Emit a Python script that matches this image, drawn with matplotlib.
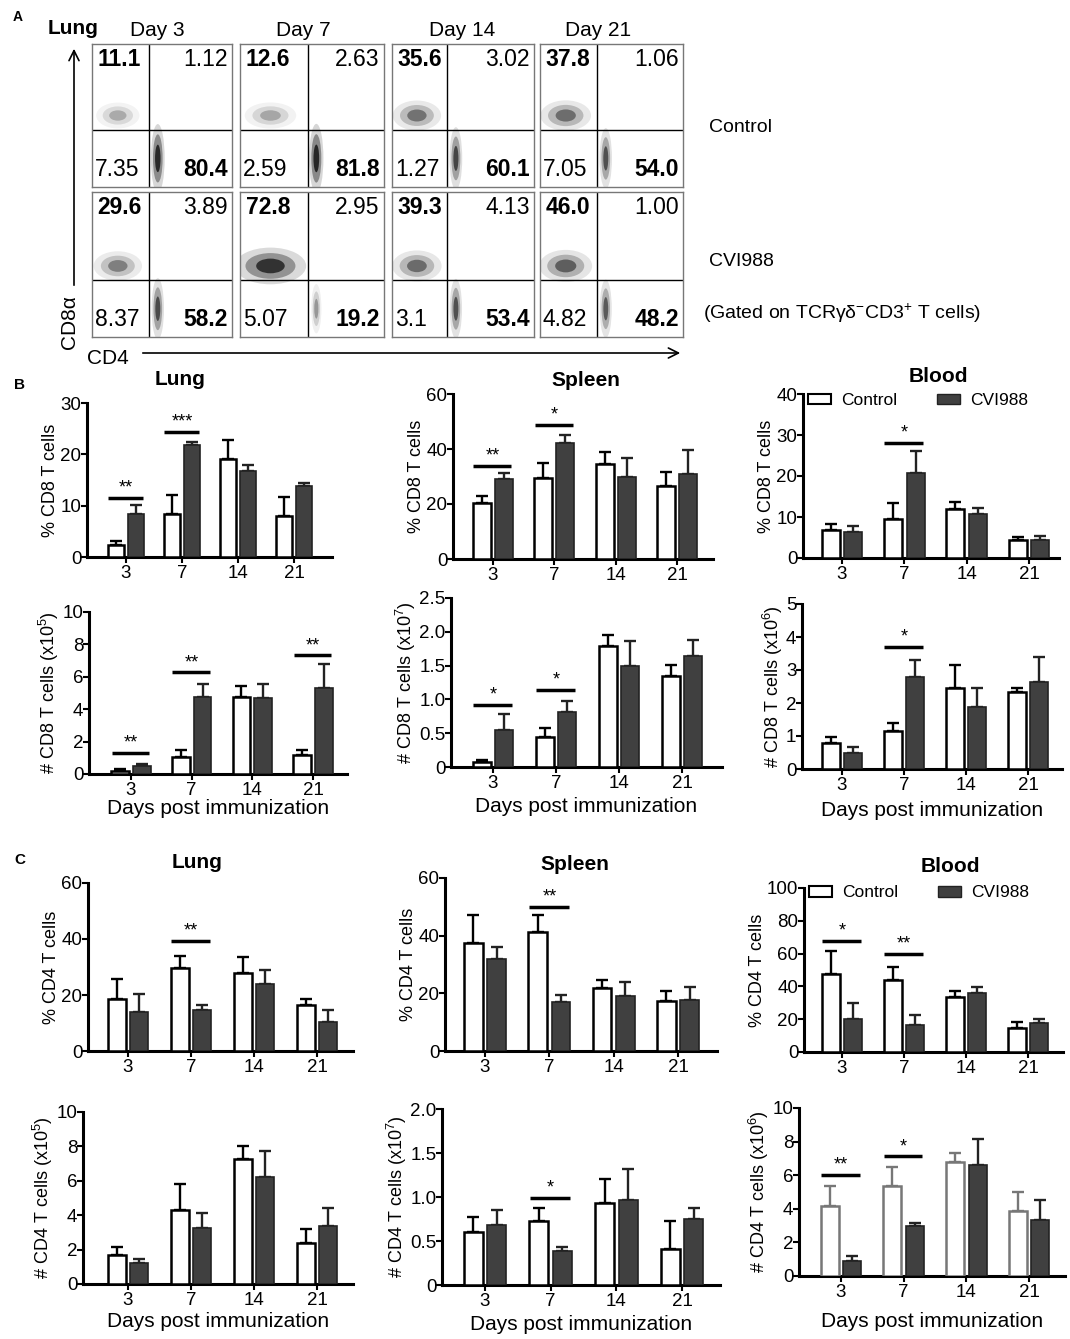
import numpy as np
import matplotlib
matplotlib.use("Agg")
import matplotlib.pyplot as plt
from matplotlib.patches import Ellipse, Patch, FancyArrowPatch

plt.rcParams['font.family'] = ['Liberation Sans', 'DejaVu Sans']
plt.rcParams['mathtext.fontset'] = 'custom'
plt.rcParams['mathtext.rm'] = 'Liberation Sans'
plt.rcParams['mathtext.default'] = 'regular'

W, H = 1070, 1339

# ---- data ----
days = ["3", "7", "14", "21"]
day_titles = ["Day 3", "Day 7", "Day 14", "Day 21"]
groups = ["Control", "CVI988"]

# panel A quadrant percentages: upper-left, upper-right, lower-left, lower-right
quad_control = [["11.1", "1.12", "7.35", "80.4"],
                ["12.6", "2.63", "2.59", "81.8"],
                ["35.6", "3.02", "1.27", "60.1"],
                ["37.8", "1.06", "7.05", "54.0"]]
quad_cvi = [["29.6", "3.89", "8.37", "58.2"],
            ["72.8", "2.95", "5.07", "19.2"],
            ["39.3", "4.13", "3.1", "53.4"],
            ["46.0", "1.00", "4.82", "48.2"]]

# panel B: CD8
b_lung_pct_ctrl = [2.4, 8.3, 19.0, 8.0]
b_lung_pct_ctrl_sem = [0.8, 3.8, 3.7, 3.6]
b_lung_pct_cvi = [8.3, 21.8, 16.8, 13.8]
b_lung_pct_cvi_sem = [1.9, 0.7, 1.1, 0.7]
b_lung_num_ctrl = [0.2, 1.07, 4.74, 1.15]
b_lung_num_ctrl_sem = [0.08, 0.4, 0.72, 0.33]
b_lung_num_cvi = [0.5, 4.78, 4.68, 5.3]
b_lung_num_cvi_sem = [0.1, 0.77, 0.87, 1.48]

b_spleen_pct_ctrl = [20.3, 29.4, 34.5, 26.7]
b_spleen_pct_ctrl_sem = [2.7, 5.5, 4.5, 5.1]
b_spleen_pct_cvi = [29.0, 42.2, 30.0, 31.0]
b_spleen_pct_cvi_sem = [2.2, 2.9, 6.9, 8.7]
b_spleen_num_ctrl = [0.08, 0.44, 1.79, 1.35]
b_spleen_num_ctrl_sem = [0.02, 0.13, 0.17, 0.16]
b_spleen_num_cvi = [0.55, 0.81, 1.49, 1.64]
b_spleen_num_cvi_sem = [0.24, 0.17, 0.38, 0.24]

b_blood_pct_ctrl = [6.8, 9.5, 11.9, 4.3]
b_blood_pct_ctrl_sem = [1.5, 4.0, 1.8, 0.8]
b_blood_pct_cvi = [6.4, 20.7, 10.8, 4.3]
b_blood_pct_cvi_sem = [1.4, 5.4, 1.4, 1.0]
b_blood_num_ctrl = [0.79, 1.16, 2.45, 2.32]
b_blood_num_ctrl_sem = [0.17, 0.23, 0.71, 0.13]
b_blood_num_cvi = [0.5, 2.79, 1.88, 2.65]
b_blood_num_cvi_sem = [0.16, 0.52, 0.57, 0.73]

# panel C: CD4
c_lung_pct_ctrl = [18.5, 29.5, 27.7, 16.6]
c_lung_pct_ctrl_sem = [7.1, 4.5, 6.0, 1.8]
c_lung_pct_cvi = [14.0, 14.5, 24.1, 10.3]
c_lung_pct_cvi_sem = [6.5, 1.9, 4.8, 4.3]
c_lung_num_ctrl = [1.7, 4.3, 7.26, 2.37]
c_lung_num_ctrl_sem = [0.48, 1.49, 0.74, 0.82]
c_lung_num_cvi = [1.25, 3.24, 6.2, 3.38]
c_lung_num_cvi_sem = [0.2, 0.87, 1.54, 1.02]

c_spleen_pct_ctrl = [37.6, 41.4, 22.0, 17.2]
c_spleen_pct_ctrl_sem = [9.6, 5.8, 2.6, 3.7]
c_spleen_pct_cvi = [31.9, 16.9, 19.1, 17.6]
c_spleen_pct_cvi_sem = [4.3, 2.4, 4.9, 4.6]
c_spleen_num_ctrl = [0.6, 0.73, 0.93, 0.41]
c_spleen_num_ctrl_sem = [0.17, 0.15, 0.27, 0.32]
c_spleen_num_cvi = [0.68, 0.39, 0.97, 0.75]
c_spleen_num_cvi_sem = [0.17, 0.04, 0.35, 0.12]

c_blood_pct_ctrl = [47.8, 43.7, 33.5, 14.8]
c_blood_pct_ctrl_sem = [14.0, 7.9, 3.7, 3.5]
c_blood_pct_cvi = [19.9, 16.3, 35.8, 17.7]
c_blood_pct_cvi_sem = [10.2, 6.3, 4.0, 2.6]
c_blood_num_ctrl = [4.17, 5.36, 6.77, 3.87]
c_blood_num_ctrl_sem = [1.19, 1.13, 0.57, 1.11]
c_blood_num_cvi = [0.89, 2.98, 6.59, 3.31]
c_blood_num_cvi_sem = [0.28, 0.19, 1.56, 1.19]

# y axis tick labels
yt_10 = ["0", "10", "20", "30"]
yt_20_60 = ["0", "20", "40", "60"]
yt_2_10 = ["0", "2", "4", "6", "8", "10"]
yt_half_25 = ["0", "0.5", "1.0", "1.5", "2.0", "2.5"]
yt_half_20 = ["0", "0.5", "1.0", "1.5", "2.0"]
yt_10_40 = ["0", "10", "20", "30", "40"]
yt_1_5 = ["0", "1", "2", "3", "4", "5"]
yt_20_100 = ["0", "20", "40", "60", "80", "100"]

# significance marks: (day index, stars, line height)
b_lung_pct_sig = [(0, "**", 11.5), (1, "***", 24.4)]
b_lung_num_sig = [(0, "**", 1.32), (1, "**", 6.27), (3, "**", 7.32)]
b_spleen_pct_sig = [(0, "**", 33.9), (1, "*", 48.7)]
b_spleen_num_sig = [(0, "*", 0.92), (1, "*", 1.14)]
b_blood_pct_sig = [(1, "*", 28.0)]
b_blood_num_sig = [(1, "*", 3.7)]
c_lung_pct_sig = [(1, "**", 39.3)]
c_lung_num_sig = []
c_spleen_pct_sig = [(1, "**", 50.1)]
c_spleen_num_sig = [(1, "*", 0.99)]
c_blood_pct_sig = [(0, "*", 67.5), (1, "**", 59.6)]
c_blood_num_sig = [(0, "**", 6.03), (1, "*", 7.12)]

CVI_COLOR = "#404040"

fig = plt.figure(figsize=(W / 100, H / 100), dpi=100)


def fx(x):
    return x / W


def fy(y):
    return 1 - y / H


def add_ax(left, top, right, bottom):
    return fig.add_axes([left / W, 1 - bottom / H, (right - left) / W, (bottom - top) / H])


# ---- panel A: dot plot gates ----
box_x = [(92, 232), (240, 384), (392, 534), (540, 683)]
box_y = [(44, 187), (192, 337)]
gate_x = [0.41, 0.47, 0.39, 0.40]
gate_y = [0.40, 0.39]

for r, quads in enumerate([quad_control, quad_cvi]):
    for c, q in enumerate(quads):
        ax = add_ax(box_x[c][0], box_y[r][0], box_x[c][1], box_y[r][1])
        ax.set_xlim(0, 1)
        ax.set_ylim(0, 1)
        ax.set_xticks([])
        ax.set_yticks([])
        for s in ax.spines.values():
            s.set_color("#777777")
            s.set_linewidth(1)
        gx, gy = gate_x[c], gate_y[r]
        # population clouds, darkness scaled by quadrant %
        cd8, cd4 = float(q[0]), float(q[3])
        for pct, (cx, cy, w, h) in [(cd8, (gx * 0.45, gy + 0.1, gx * 1.0, 0.24)),
                                    (cd4, (gx + 0.06, gy * 0.5, 0.09, gy * 1.1))]:
            a = 0.15 + 0.65 * pct / 82
            sz = 0.7 + 0.4 * pct / 82
            for k, al in [(1.0, 0.2), (0.7, 0.45), (0.4, 0.9)]:
                ax.add_patch(Ellipse((cx, cy), w * k * sz, h * k * sz,
                                     facecolor="black", edgecolor="none", alpha=a * al))
        ax.axvline(gx, color="black", lw=1)
        ax.axhline(gy, color="black", lw=1)
        ax.text(0.04, 0.97, q[0], ha="left", va="top", fontsize=16.5, fontweight="bold",
                transform=ax.transAxes)
        ax.text(0.97, 0.97, q[1], ha="right", va="top", fontsize=16.5, transform=ax.transAxes)
        ax.text(0.02, 0.04, q[2], ha="left", va="bottom", fontsize=16.5, transform=ax.transAxes)
        ax.text(0.97, 0.04, q[3], ha="right", va="bottom", fontsize=16.5, fontweight="bold",
                transform=ax.transAxes)

fig.text(fx(13), fy(17), "A", fontsize=10, fontweight="bold", ha="left", va="center")
fig.text(fx(48), fy(28), "Lung", fontsize=15, fontweight="bold", ha="left", va="center")
for c, t in enumerate(day_titles):
    fig.text(fx([157, 303, 462, 598][c]), fy(30), t, fontsize=15, ha="center", va="center")
fig.text(fx(709), fy(127), "Control", fontsize=14, ha="left", va="center")
fig.text(fx(709), fy(262), "CVI988", fontsize=14, ha="left", va="center")
fig.text(fx(703), fy(313), "(Gated on TCRγδ$^{-}$CD3$^{+}$ T cells)", fontsize=14,
         ha="left", va="center")
fig.add_artist(FancyArrowPatch((fx(74), fy(288)), (fx(74), fy(46)), transform=fig.transFigure,
                               arrowstyle="->", mutation_scale=18, lw=1.2, color="black"))
fig.add_artist(FancyArrowPatch((fx(140), fy(353)), (fx(683), fy(353)), transform=fig.transFigure,
                               arrowstyle="->", mutation_scale=18, lw=1.2, color="black"))
fig.text(fx(70), fy(322), "CD8α", fontsize=15, rotation=90, ha="center", va="center")
fig.text(fx(87), fy(358), "CD4", fontsize=15, ha="left", va="center")


# ---- panels B and C: bar charts ----
def bar_panel(box, ticks_px, ctrl, ctrl_sem, cvi, cvi_sem, ytl, ylabel, sig,
              xlabel=None, xpad=0, ctrl_edge="black"):
    left, top, right, bottom = box
    ax = add_ax(left, top, right, bottom)
    sp = (ticks_px[1] - ticks_px[0]) / 3
    ax.set_xlim(-(ticks_px[0] - left) / sp, 3 + (right - ticks_px[1]) / sp)
    yticks = [float(t) for t in ytl]
    ax.set_ylim(0, yticks[-1])
    x = np.arange(len(days))
    off, bw = 0.18, 0.29
    ax.bar(x - off, ctrl, bw, facecolor="white", edgecolor=ctrl_edge, lw=1.8, zorder=3)
    ax.bar(x + off, cvi, bw, facecolor=CVI_COLOR, edgecolor="#222222", lw=1.2, zorder=3)
    ax.errorbar(x - off, ctrl, yerr=[np.zeros(4), ctrl_sem], fmt="none", ecolor=ctrl_edge,
                elinewidth=1.7, capsize=4, capthick=1.7, zorder=2, clip_on=False)
    ax.errorbar(x + off, cvi, yerr=[np.zeros(4), cvi_sem], fmt="none", ecolor="#222222",
                elinewidth=1.7, capsize=4, capthick=1.7, zorder=2, clip_on=False)
    for i, stars, yv in sig:
        ax.plot([i - 0.32, i + 0.3], [yv, yv], color="black", lw=2.5, solid_capstyle="butt")
        ax.annotate(stars, (i, yv), xytext=(0, 1), textcoords="offset points",
                    ha="center", va="bottom", fontsize=13)
    ax.set_xticks(x)
    ax.set_xticklabels(days)
    ax.set_yticks(yticks)
    ax.set_yticklabels(ytl)
    ax.tick_params(axis="both", labelsize=13.5, width=1.5, length=4, pad=2)
    ax.tick_params(axis="y", pad=0)
    for s in ["top", "right"]:
        ax.spines[s].set_visible(False)
    for s in ["left", "bottom"]:
        ax.spines[s].set_linewidth(2.2)
    ax.set_ylabel(ylabel, fontsize=13, labelpad=1)
    if xlabel:
        ax.set_xlabel(xlabel, fontsize=15, labelpad=xpad)
    return ax


xl = "Days post immunization"
bar_panel((87, 403, 332, 557), (126, 294), b_lung_pct_ctrl, b_lung_pct_ctrl_sem, b_lung_pct_cvi,
          b_lung_pct_cvi_sem, yt_10, "% CD8 T cells", b_lung_pct_sig)
bar_panel((89, 612, 347, 774), (131, 313), b_lung_num_ctrl, b_lung_num_ctrl_sem, b_lung_num_cvi,
          b_lung_num_cvi_sem, yt_2_10, "# CD8 T cells (x10$^{5}$)", b_lung_num_sig, xl, 0)
bar_panel((453, 394, 713, 559), (493, 677), b_spleen_pct_ctrl, b_spleen_pct_ctrl_sem,
          b_spleen_pct_cvi, b_spleen_pct_cvi_sem, yt_20_60, "% CD8 T cells", b_spleen_pct_sig)
bar_panel((451, 598, 722, 767), (493, 682), b_spleen_num_ctrl, b_spleen_num_ctrl_sem,
          b_spleen_num_cvi, b_spleen_num_cvi_sem, yt_half_25, "# CD8 T cells (x10$^{7}$)",
          b_spleen_num_sig, xl, 3)
axb = bar_panel((803, 394, 1059, 558), (842, 1029), b_blood_pct_ctrl, b_blood_pct_ctrl_sem,
                b_blood_pct_cvi, b_blood_pct_cvi_sem, yt_10_40, "% CD8 T cells", b_blood_pct_sig)
bar_panel((802, 604, 1062, 769), (842, 1028), b_blood_num_ctrl, b_blood_num_ctrl_sem,
          b_blood_num_cvi, b_blood_num_cvi_sem, yt_1_5, "# CD8 T cells (x10$^{6}$)",
          b_blood_num_sig, xl, 5)

bar_panel((88, 883, 353, 1051), (128, 317), c_lung_pct_ctrl, c_lung_pct_ctrl_sem, c_lung_pct_cvi,
          c_lung_pct_cvi_sem, yt_20_60, "% CD4 T cells", c_lung_pct_sig)
bar_panel((83, 1112, 353, 1284), (128, 317), c_lung_num_ctrl, c_lung_num_ctrl_sem, c_lung_num_cvi,
          c_lung_num_cvi_sem, yt_2_10, "# CD4 T cells (x10$^{5}$)", c_lung_num_sig, xl, 2)
bar_panel((445, 878, 717, 1051), (485, 678), c_spleen_pct_ctrl, c_spleen_pct_ctrl_sem,
          c_spleen_pct_cvi, c_spleen_pct_cvi_sem, yt_20_60, "% CD4 T cells", c_spleen_pct_sig)
bar_panel((442, 1109, 720, 1285), (485, 682), c_spleen_num_ctrl, c_spleen_num_ctrl_sem,
          c_spleen_num_cvi, c_spleen_num_cvi_sem, yt_half_20, "# CD4 T cells (x10$^{7}$)",
          c_spleen_num_sig, xl, 3)
axc = bar_panel((804, 888, 1063, 1052), (842, 1028), c_blood_pct_ctrl, c_blood_pct_ctrl_sem,
                c_blood_pct_cvi, c_blood_pct_cvi_sem, yt_20_100, "% CD4 T cells", c_blood_pct_sig)
bar_panel((799, 1108, 1065, 1276), (841, 1029), c_blood_num_ctrl, c_blood_num_ctrl_sem,
          c_blood_num_cvi, c_blood_num_cvi_sem, yt_2_10, "# CD4 T cells (x10$^{6}$)",
          c_blood_num_sig, xl, 8, ctrl_edge="#777777")

handles = [Patch(facecolor="white", edgecolor="black", lw=1.5),
           Patch(facecolor=CVI_COLOR, edgecolor="#222222")]
for ax, yb in [(axb, 0.96), (axc, 0.97)]:
    ax.legend(handles, groups, ncol=2, loc="center left", bbox_to_anchor=(0.02, yb),
              frameon=False, fontsize=12.5, handlelength=1.3, handleheight=0.55,
              columnspacing=2.3, handletextpad=0.6, borderaxespad=0, borderpad=0)

# titles and panel letters
fig.text(fx(14), fy(385), "B", fontsize=11, fontweight="bold", ha="left", va="center")
fig.text(fx(14), fy(860), "C", fontsize=11, fontweight="bold", ha="left", va="center")
for x, y, t in [(180, 380, "Lung"), (586, 381, "Spleen"), (938, 376, "Blood"),
                (197, 862, "Lung"), (575, 865, "Spleen"), (950, 867, "Blood")]:
    fig.text(fx(x), fy(y), t, fontsize=15, fontweight="bold", ha="center", va="center")

fig.savefig("out.png", dpi=100)
